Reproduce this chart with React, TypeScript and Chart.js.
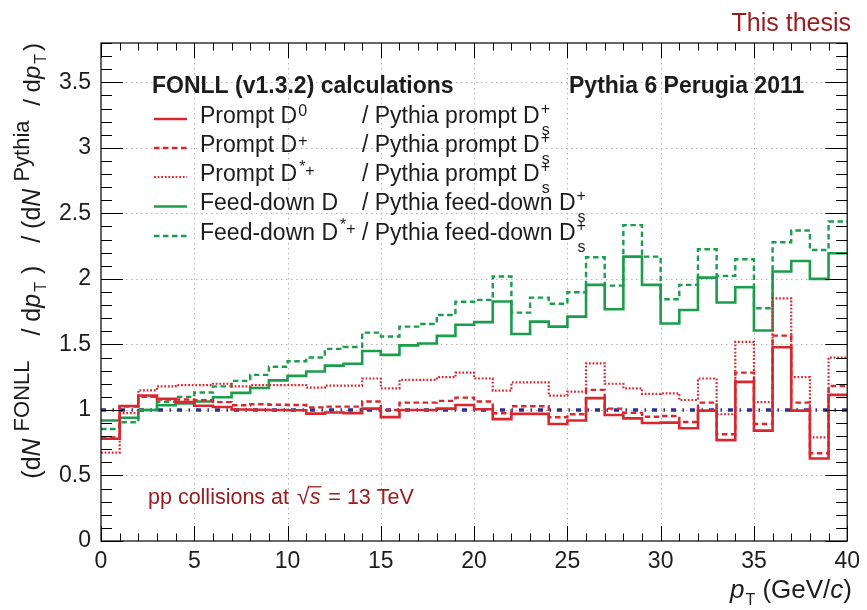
import React, { useEffect, useRef } from "react";
import { Chart, registerables } from "chart.js";

Chart.register(...registerables);

// ---------------- data ----------------
const binEdges = [0, 1, 2, 3, 4, 5, 6, 7, 8, 9, 10, 11, 12, 13, 14, 15, 16, 17, 18, 19, 20,
  21, 22, 23, 24, 25, 26, 27, 28, 29, 30, 31, 32, 33, 34, 35, 36, 37, 38, 39, 40];

const promptD0 = [0.78, 1.03, 1.11, 1.085, 1.06, 1.032, 1.022, 1.003, 1.002, 1.0,
  0.998, 0.972, 0.981, 0.976, 1.01, 0.945, 1.0, 1.0, 1.01, 1.038,
  1.005, 0.93, 0.97, 0.97, 0.893, 0.92, 1.09, 0.962, 0.936, 0.9,
  0.903, 0.86, 0.995, 0.77, 1.214, 0.842, 1.478, 0.995, 0.63, 1.115];

const promptDplus = [0.79, 1.025, 1.1, 1.08, 1.08, 1.075, 1.06, 1.036, 1.043, 1.04,
  1.038, 1.02, 1.025, 1.025, 1.064, 1.0, 1.056, 1.056, 1.069, 1.094,
  1.064, 0.975, 1.028, 1.028, 0.944, 0.967, 1.153, 1.01, 0.978, 0.948,
  0.954, 0.908, 1.056, 0.814, 1.285, 0.893, 1.567, 1.056, 0.67, 1.183];

const promptDstar = [0.674, 0.975, 1.15, 1.18, 1.19, 1.19, 1.2, 1.18, 1.19, 1.19,
  1.19, 1.17, 1.186, 1.186, 1.24, 1.165, 1.23, 1.23, 1.25, 1.285,
  1.24, 1.148, 1.21, 1.21, 1.11, 1.14, 1.356, 1.2, 1.165, 1.122,
  1.127, 1.076, 1.24, 0.967, 1.52, 1.06, 1.852, 1.25, 0.79, 1.4];

const feeddownD = [0.92, 0.94, 1.0, 1.036, 1.05, 1.064, 1.097, 1.13, 1.168, 1.226,
  1.26, 1.293, 1.338, 1.352, 1.45, 1.42, 1.493, 1.507, 1.565, 1.65,
  1.67, 1.827, 1.58, 1.674, 1.636, 1.712, 1.954, 1.768, 2.17, 1.954,
  1.66, 1.763, 2.01, 1.82, 1.936, 1.606, 2.056, 2.137, 2.0, 2.196];

const feeddownDstar = [0.855, 0.906, 1.0, 1.062, 1.1, 1.133, 1.18, 1.222, 1.268, 1.33,
  1.372, 1.4, 1.466, 1.48, 1.59, 1.56, 1.636, 1.656, 1.725, 1.826,
  1.84, 2.018, 1.743, 1.857, 1.81, 1.898, 2.165, 1.949, 2.41, 2.17,
  1.845, 1.954, 2.226, 2.023, 2.15, 1.776, 2.28, 2.369, 2.221, 2.438];

const unityRatio = 1;

const xRange = [0, 40];
const yRange = [0, 3.8];
const xMajorStep = 5;
const yMajorStep = 0.5;

// ---------------- style ----------------
const FONT = "'Liberation Sans', Arial, Helvetica, sans-serif";
const RED = "#d7282f";
const GREEN = "#1b9d4c";
const BLUE = "#2e3192";
const DARKRED = "#9b1c20";
const TEXT = "#1c1c1c";

const LINE = {
  solid: { w: 2.6, dash: [] as number[] },
  dashed: { w: 2.4, dash: [5.5, 3.5] },
  dotted: { w: 2.2, dash: [1.8, 1.8] },
};

type Seg = {
  t: string;
  size: number;
  italic?: boolean;
  bold?: boolean;
  dy?: number;
  gap?: number;
  hold?: boolean;
  overline?: boolean;
};

function runSegs(ctx: CanvasRenderingContext2D, segs: Seg[], x: number, y: number, draw: boolean): number {
  let cx = x;
  let holdW = 0;
  for (const s of segs) {
    cx += s.gap || 0;
    ctx.font = `${s.italic ? "italic " : ""}${s.bold ? "bold " : ""}${s.size}px ${FONT}`;
    const w = ctx.measureText(s.t).width;
    if (draw) {
      ctx.fillText(s.t, cx, y + (s.dy || 0));
      if (s.overline) {
        ctx.save();
        ctx.lineWidth = 1.3;
        ctx.strokeStyle = ctx.fillStyle as string;
        ctx.beginPath();
        const oy = y + (s.dy || 0) - s.size * 0.8;
        ctx.moveTo(cx - 1, oy);
        ctx.lineTo(cx + w + 1, oy);
        ctx.stroke();
        ctx.restore();
      }
    }
    if (s.hold) {
      holdW = w;
    } else {
      cx += Math.max(w, holdW);
      holdW = 0;
    }
  }
  return cx - x;
}

function histPoints(vals: number[]) {
  const pts: { x: number; y: number }[] = [];
  vals.forEach((v, i) => {
    pts.push({ x: binEdges[i], y: v });
    pts.push({ x: binEdges[i + 1], y: v });
  });
  return pts;
}

const series = [
  { label: "promptD0", data: promptD0, color: RED, style: LINE.solid },
  { label: "promptDplus", data: promptDplus, color: RED, style: LINE.dashed },
  { label: "promptDstar", data: promptDstar, color: RED, style: LINE.dotted },
  { label: "feeddownD", data: feeddownD, color: GREEN, style: LINE.solid },
  { label: "feeddownDstar", data: feeddownDstar, color: GREEN, style: LINE.dashed },
];

const SUP1 = 16;
const leftLabels: Seg[][] = [
  [{ t: "Prompt D", size: 23 }, { t: "0", size: SUP1, dy: -7, gap: 1 }],
  [{ t: "Prompt D", size: 23 }, { t: "+", size: SUP1, dy: -6, gap: 1 }],
  [{ t: "Prompt D", size: 23 }, { t: "*", size: SUP1, dy: -9, gap: 2 }, { t: "+", size: SUP1, dy: -5 }],
  [{ t: "Feed-down D", size: 23 }],
  [{ t: "Feed-down D", size: 23 }, { t: "*", size: SUP1, dy: -10, gap: 2 }, { t: "+", size: SUP1, dy: -6 }],
];
const dsTail = (s: string): Seg[] => [
  { t: s, size: 23 },
  { t: "+", size: SUP1, dy: -9, hold: true, gap: 1 },
  { t: "s", size: SUP1, dy: 12, gap: 1 },
];
const rightLabels: Seg[][] = [
  dsTail("/ Pythia prompt D"),
  dsTail("/ Pythia prompt D"),
  dsTail("/ Pythia prompt D"),
  dsTail("/ Pythia feed-down D"),
  dsTail("/ Pythia feed-down D"),
];

const overlay = {
  id: "overlay",
  beforeDatasetsDraw(chart: any) {
    const ctx: CanvasRenderingContext2D = chart.ctx;
    const xs = chart.scales.x;
    const ys = chart.scales.y;
    const { left, right, top, bottom } = chart.chartArea;
    ctx.save();
    ctx.strokeStyle = "#b5b5b5";
    ctx.lineWidth = 1;
    ctx.setLineDash([1.5, 3.5]);
    for (let v = xRange[0] + xMajorStep; v < xRange[1]; v += xMajorStep) {
      const px = Math.round(xs.getPixelForValue(v)) + 0.5;
      ctx.beginPath();
      ctx.moveTo(px, top);
      ctx.lineTo(px, bottom);
      ctx.stroke();
    }
    for (let k = 1; k * yMajorStep < yRange[1]; k++) {
      const py = Math.round(ys.getPixelForValue(k * yMajorStep)) + 0.5;
      ctx.beginPath();
      ctx.moveTo(left, py);
      ctx.lineTo(right, py);
      ctx.stroke();
    }
    ctx.restore();
  },
  afterDraw(chart: any) {
    const ctx: CanvasRenderingContext2D = chart.ctx;
    const xs = chart.scales.x;
    const ys = chart.scales.y;
    const { left, right, top, bottom } = chart.chartArea;
    ctx.save();
    // frame
    ctx.setLineDash([]);
    ctx.strokeStyle = "#000";
    ctx.lineWidth = 1.2;
    ctx.strokeRect(left, top, right - left, bottom - top);
    // ticks
    ctx.lineWidth = 1;
    const seg = (x1: number, y1: number, x2: number, y2: number) => {
      ctx.beginPath();
      ctx.moveTo(x1, y1);
      ctx.lineTo(x2, y2);
      ctx.stroke();
    };
    for (let v = xRange[0]; v <= xRange[1]; v += 1) {
      const px = Math.round(xs.getPixelForValue(v)) + 0.5;
      const len = v % xMajorStep === 0 ? 15 : 7.5;
      seg(px, bottom, px, bottom - len);
      seg(px, top, px, top + len);
    }
    for (let k = 0; k * 0.1 <= yRange[1] + 1e-9; k++) {
      const py = Math.round(ys.getPixelForValue(k * 0.1)) + 0.5;
      const len = k % 5 === 0 ? 22 : 11;
      seg(left, py, left + len, py);
      seg(right, py, right - len, py);
    }

    // headers
    ctx.fillStyle = TEXT;
    ctx.textBaseline = "alphabetic";
    ctx.textAlign = "left";
    runSegs(ctx, [{ t: "FONLL (v1.3.2) calculations", size: 23, bold: true }], 152, 93, true);
    runSegs(ctx, [{ t: "Pythia 6 Perugia 2011", size: 23, bold: true }], 569, 93, true);

    // legend
    const rowBase = [122.5, 151.5, 180.5, 210, 239.5];
    series.forEach((s, i) => {
      const ly = rowBase[i] - 3.5;
      ctx.save();
      ctx.strokeStyle = s.color;
      ctx.lineWidth = s.style.w;
      ctx.setLineDash(s.style.dash);
      ctx.beginPath();
      ctx.moveTo(154, ly);
      ctx.lineTo(187, ly);
      ctx.stroke();
      ctx.restore();
      ctx.fillStyle = TEXT;
      runSegs(ctx, leftLabels[i], 200, rowBase[i], true);
      runSegs(ctx, rightLabels[i], 362, rowBase[i], true);
    });

    // "This thesis"
    ctx.fillStyle = DARKRED;
    ctx.font = `25px ${FONT}`;
    ctx.textAlign = "right";
    ctx.fillText("This thesis", 851, 31);
    ctx.textAlign = "left";

    // energy label
    ctx.fillStyle = DARKRED;
    runSegs(
      ctx,
      [
        { t: "pp collisions at", size: 21.5 },
        { t: "\u221A", size: 23, gap: 8 },
        { t: "s", size: 21.5, italic: true, overline: true },
        { t: " = 13 TeV", size: 21.5, gap: 2 },
      ],
      148,
      504,
      true
    );

    // x title
    ctx.fillStyle = TEXT;
    const xSegs: Seg[] = [
      { t: "p", size: 26, italic: true },
      { t: "T", size: 16, dy: 7, gap: 1 },
      { t: " (GeV/", size: 26 },
      { t: "c", size: 26, italic: true },
      { t: ")", size: 26 },
    ];
    const xw = runSegs(ctx, xSegs, 0, 0, false);
    runSegs(ctx, xSegs, 852 - xw, 598, true);

    // y title
    const ySegs: Seg[] = [
      { t: "(d", size: 25 },
      { t: "N", size: 25, italic: true },
      { t: "FONLL", size: 22, dy: -11, gap: 7 },
      { t: " / d", size: 25, gap: 18 },
      { t: "p", size: 25, italic: true },
      { t: "T", size: 16, dy: 6, gap: 2 },
      { t: ")", size: 25, gap: 8 },
      { t: " / (d", size: 25, gap: 16 },
      { t: "N", size: 25, italic: true },
      { t: "Pythia", size: 22, dy: -11, gap: 7 },
      { t: " / d", size: 24, gap: 8 },
      { t: "p", size: 24, italic: true },
      { t: "T", size: 16, dy: 6, gap: 2 },
      { t: ")", size: 24, gap: 3 },
    ];
    const yw = runSegs(ctx, ySegs, 0, 0, false);
    ctx.translate(40, 43 + yw);
    ctx.rotate(-Math.PI / 2);
    runSegs(ctx, ySegs, 0, 0, true);
    ctx.restore();
  },
};

export default function App() {
  const canvasRef = useRef<HTMLCanvasElement | null>(null);

  useEffect(() => {
    const canvas = canvasRef.current;
    if (!canvas) return;
    const datasets: any[] = series.map((s) => ({
      label: s.label,
      data: histPoints(s.data),
      borderColor: s.color,
      borderWidth: s.style.w,
      borderDash: s.style.dash,
      borderCapStyle: "butt",
      borderJoinStyle: "miter",
      pointRadius: 0,
      fill: false,
      tension: 0,
    }));
    datasets.push({
      label: "unity",
      data: [
        { x: xRange[0], y: unityRatio },
        { x: xRange[1], y: unityRatio },
      ],
      borderColor: BLUE,
      borderWidth: 3.4,
      borderDash: [5, 6.5, 1.5, 6],
      borderCapStyle: "butt",
      pointRadius: 0,
      fill: false,
    });

    const chart = new Chart(canvas, {
      type: "line",
      data: { datasets },
      options: {
        responsive: false,
        animation: false,
        devicePixelRatio: 1,
        layout: { padding: { left: 0, right: 14, top: 43, bottom: 0 } },
        plugins: { legend: { display: false }, tooltip: { enabled: false }, title: { display: false } },
        scales: {
          x: {
            type: "linear",
            min: xRange[0],
            max: xRange[1],
            grid: { display: false, drawTicks: false },
            border: { display: false },
            ticks: {
              stepSize: xMajorStep,
              padding: 7,
              color: TEXT,
              font: { family: FONT, size: 23 },
              maxRotation: 0,
              autoSkip: false,
              includeBounds: false,
            },
            afterFit: (scale: any) => {
              scale.height = 69;
            },
          },
          y: {
            type: "linear",
            min: yRange[0],
            max: yRange[1],
            grid: { display: false, drawTicks: false },
            border: { display: false },
            ticks: {
              stepSize: yMajorStep,
              padding: 10,
              color: TEXT,
              font: { family: FONT, size: 23 },
              includeBounds: false,
              autoSkip: false,
              callback: (v: any) => String(Math.round(Number(v) * 10) / 10),
            },
            afterFit: (scale: any) => {
              scale.width = 101;
            },
          },
        },
      },
      plugins: [overlay],
    });
    return () => chart.destroy();
  }, []);

  return (
    <div style={{ position: "fixed", left: 0, top: 0, width: 867, height: 610, background: "#fff" }}>
      <canvas ref={canvasRef} width={867} height={610} style={{ display: "block" }} />
    </div>
  );
}
